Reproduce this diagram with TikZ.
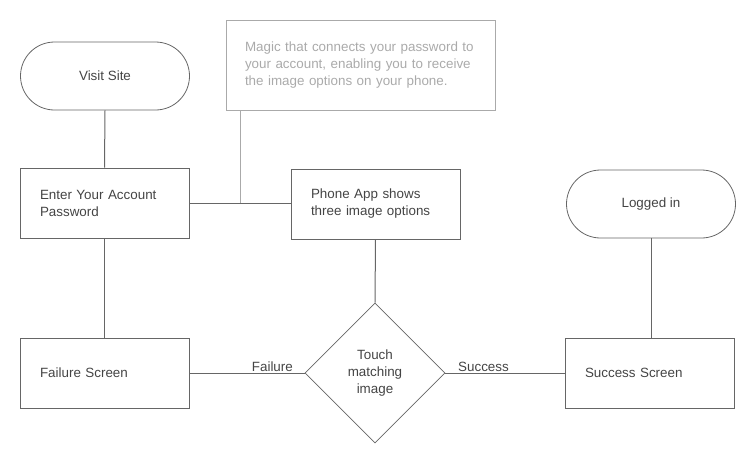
\documentclass[tikz,border=0pt]{standalone}
\usepackage{fontspec}
\setmainfont{Liberation Sans}
\usetikzlibrary{shapes.geometric}
\definecolor{lineC}{HTML}{666666}
\definecolor{txtC}{HTML}{444444}
\definecolor{noteC}{HTML}{AAAAAA}
\begin{document}
\begin{tikzpicture}[x=1pt,y=-1pt,
  font=\fontsize{13.4}{17}\selectfont,
  every node/.style={text=txtC},
  box/.style={draw=lineC,line width=1pt,minimum width=169pt,minimum height=70pt,inner xsep=20pt,text width=129pt,align=left},
  term/.style={draw=lineC,line width=0.8pt,rounded corners=34pt,minimum width=169pt,minimum height=68pt,align=center},
  note/.style={draw=noteC,line width=1pt,minimum width=269pt,minimum height=90pt,inner xsep=19pt,text width=231pt,align=left,text=noteC},
  dec/.style={draw=lineC,line width=0.8pt,diamond,minimum width=140pt,minimum height=140pt,inner sep=0pt,align=center},
  conn/.style={draw=lineC,line width=1pt},
  noteconn/.style={draw=noteC,line width=1pt},
  lbl/.style={inner sep=1pt}]
\useasboundingbox (0,0) rectangle (753,464);
\node[term] (visit) at (105,76) {Visit Site};
\node[box] (enter) at (104.5,203) {Enter Your Account\\Password};
\node[box] (phone) at (375.5,204) {Phone App shows\\three image options};
\node[note] (note) at (360.5,65) {Magic that connects your password to\\your account, enabling you to receive\\the image options on your phone.};
\node[term] (logged) at (651,204) {Logged in};
\node[box] (fail) at (104.5,373) {Failure Screen};
\node[dec] (touch) at (375,373) {Touch\\matching\\image};
\node[box] (succ) at (649.5,373) {Success Screen};
\coordinate (j) at (240,203);
\draw[conn] (visit.south) -- (enter.north);
\draw[conn] (enter.south) -- (fail.north);
\draw[conn] (enter.east) -- (enter.east -| phone.west);
\draw[noteconn] (j |- note.south) -- (j);
\draw[conn] (phone.south) -- (touch.north);
\draw[conn] (fail.east) -- node[lbl,above,pos=0.72] {Failure} (touch.west);
\draw[conn] (touch.east) -- node[lbl,above,pos=0.32] {Success} (succ.west);
\draw[conn] (logged.south) -- (logged.south |- succ.north);
\end{tikzpicture}
\end{document}
